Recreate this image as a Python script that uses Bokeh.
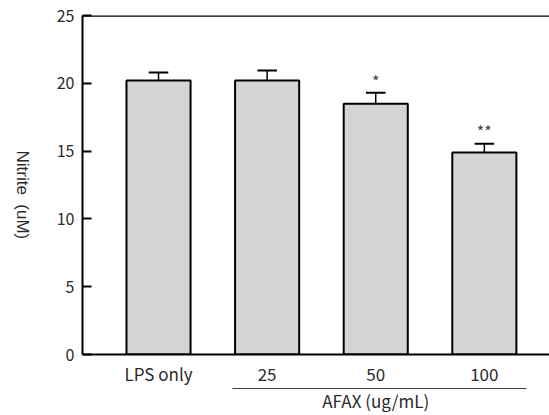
import math
from bokeh.plotting import figure
from bokeh.models import (Range1d, FixedTicker, Span, LinearAxis, ColumnDataSource)
from bokeh.core.properties import value
from bokeh.embed import file_html
from bokeh.resources import INLINE

# ---- data ----
categories = ["LPS only", "25", "50", "100"]
nitrite = [20.2, 20.2, 18.5, 14.9]
errors = [0.6, 0.75, 0.8, 0.65]
significance = ["", "", "*", "**"]
y_ticks = [0, 5, 10, 15, 20, 25]
group_label = "AFAX (ug/mL)"
y_label = "Nitrite\u00a0\u00a0(uM)"

FONT = "Noto Sans CJK KR"
TXT = "#2a2a2a"

xs = list(range(1, len(categories) + 1))
tops = [v + e for v, e in zip(nitrite, errors)]
cap_half = 0.09
src = ColumnDataSource(dict(
    x=xs, top=nitrite, etop=tops,
    cl=[x - cap_half for x in xs], cr=[x + cap_half for x in xs],
    sy=[t + 0.9 for t in tops], sig=significance,
))

p = figure(width=549, height=415, output_backend="svg", toolbar_location=None,
           x_range=Range1d(0.3, 4.6), y_range=Range1d(0, 25),
           min_border_left=82, min_border_right=0, min_border_top=15,
           min_border_bottom=0, y_axis_location=None, x_axis_location=None)
p.outline_line_color = None
p.grid.visible = False
p.background_fill_color = "white"

p.vbar(x="x", top="top", bottom=0, width=0.59, source=src,
       fill_color="#d4d4d4", line_color="black", line_width=2)
p.segment(x0="x", y0="top", x1="x", y1="etop", source=src,
          line_color="black", line_width=1.5)
p.segment(x0="cl", y0="etop", x1="cr", y1="etop", source=src,
          line_color="black", line_width=2)
p.text(x="x", y="sy", text="sig", source=src, text_align="center",
       text_baseline="middle", text_font=value(FONT), text_font_size="16px",
       text_color="#444444")

# top border line
p.add_layout(Span(location=25, dimension="width", line_color="black", line_width=2.5))

# main y axis
ya = LinearAxis(ticker=FixedTicker(ticks=y_ticks))
ya.axis_line_width = 2
ya.major_tick_in = 9
ya.major_tick_out = 0
ya.major_tick_line_width = 2
ya.minor_tick_line_color = None
ya.major_label_standoff = 8
ya.major_label_text_font = FONT
ya.major_label_text_font_size = "16px"
ya.major_label_text_color = TXT
p.add_layout(ya, "left")

# y title as a line-less axis; the rotated text (top-to-bottom) ends at its tick,
# so the tick sits below the middle to centre the text on the frame
title_anchor = 8.5
yt = LinearAxis(ticker=FixedTicker(ticks=[title_anchor]))
yt.major_label_overrides = {title_anchor: y_label}
yt.major_label_orientation = -math.pi / 2
yt.axis_line_color = None
yt.major_tick_line_color = None
yt.minor_tick_line_color = None
yt.major_label_standoff = 25
yt.major_label_text_font = "Liberation Sans"
yt.major_label_text_font_size = "17px"
yt.major_label_text_color = TXT
p.add_layout(yt, "left")

# main x axis
xa = LinearAxis(ticker=FixedTicker(ticks=xs))
xa.major_label_overrides = {x: c for x, c in zip(xs, categories)}
xa.axis_line_width = 2
xa.major_tick_line_color = None
xa.minor_tick_line_color = None
xa.major_label_standoff = 0
xa.major_label_text_font = FONT
xa.major_label_text_font_size = "17px"
xa.major_label_text_color = TXT
p.add_layout(xa, "below")

# group axis for the AFAX doses: short line under 25..100 plus its title
g0, g1 = xs[1], xs[-1]
gc = (g0 + g1) / 2
ga = LinearAxis(ticker=FixedTicker(ticks=[gc]), bounds=(g0 - 0.32, g1 + 0.39))
ga.major_label_overrides = {gc: group_label}
ga.axis_line_color = "#444444"
ga.axis_line_width = 1.2
ga.major_tick_line_color = None
ga.minor_tick_line_color = None
ga.major_label_standoff = -7
ga.major_label_text_font = FONT
ga.major_label_text_font_size = "17px"
ga.major_label_text_color = TXT
p.add_layout(ga, "below")

open("out.html", "w").write(file_html(p, INLINE))
